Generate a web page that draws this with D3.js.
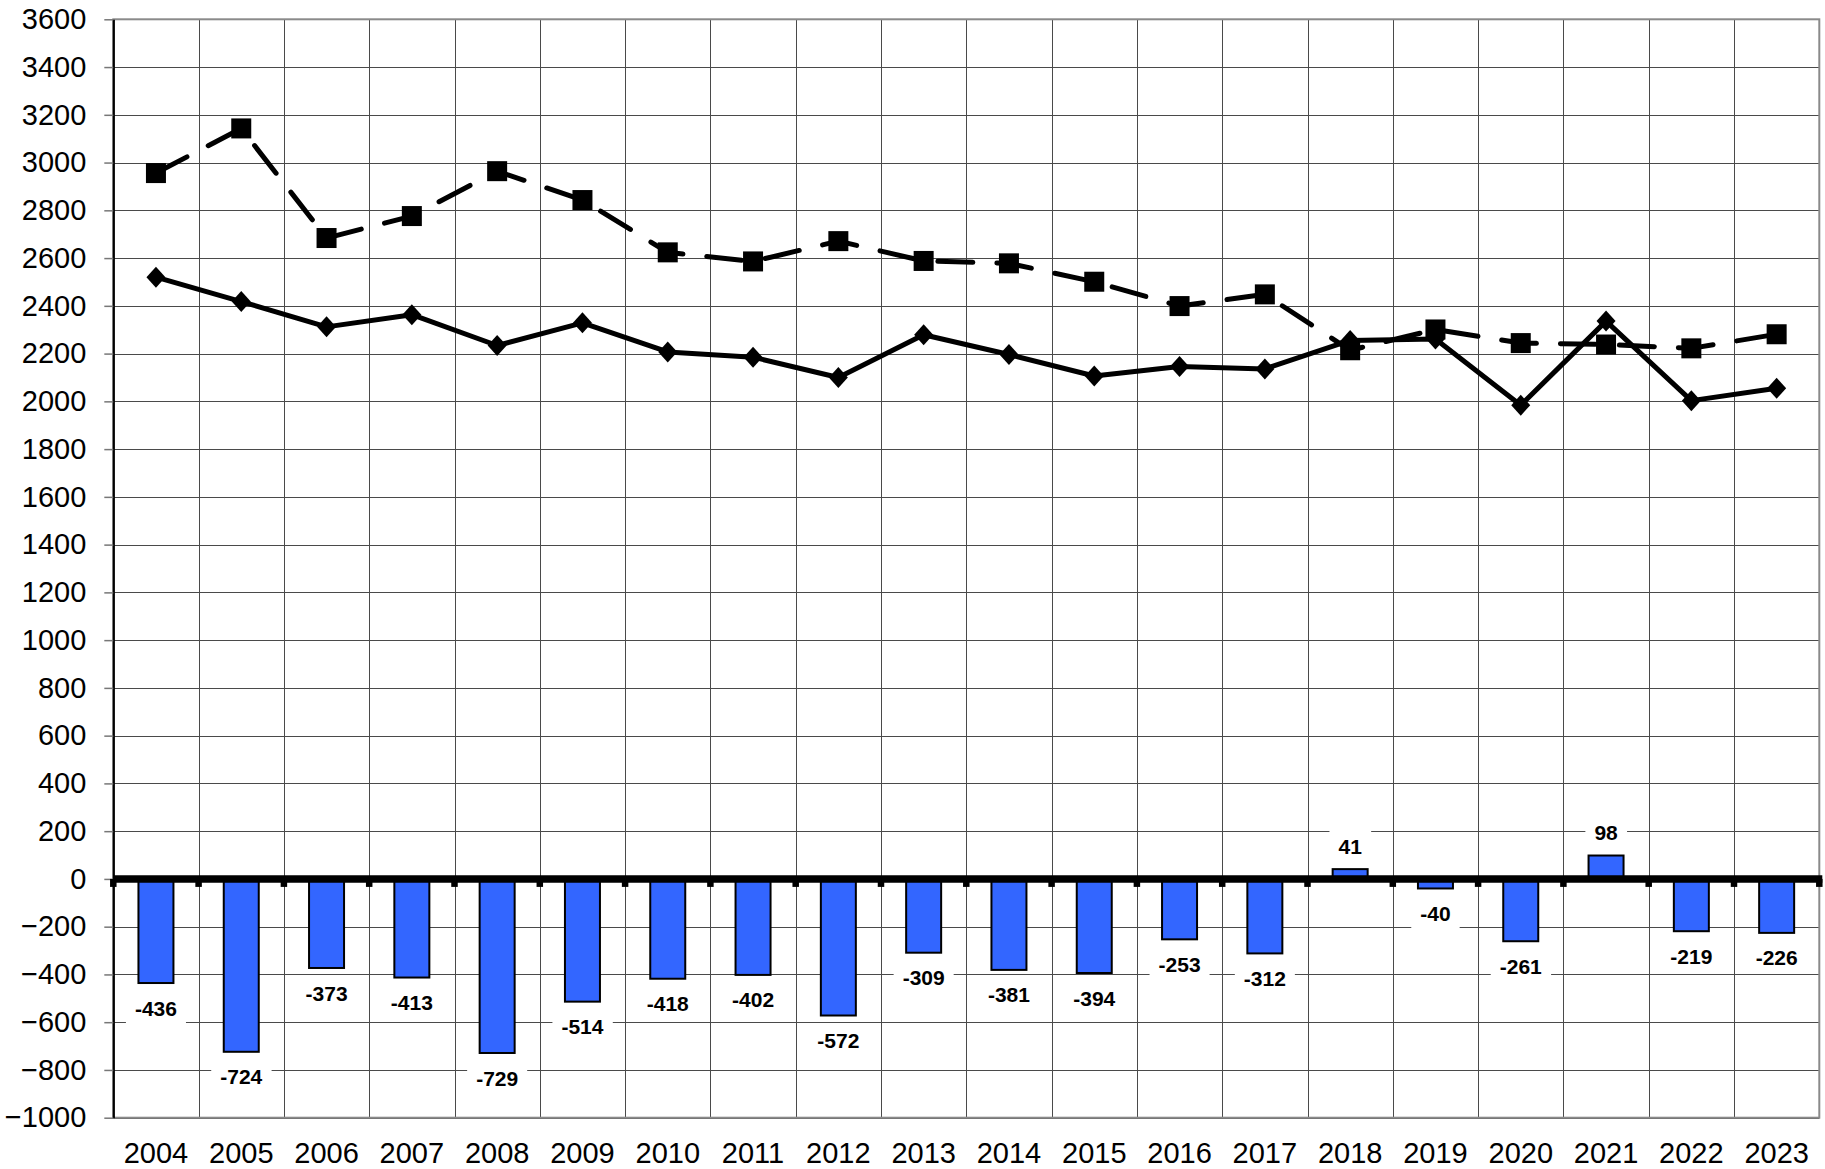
<!DOCTYPE html>
<html>
<head>
<meta charset="utf-8">
<script src="https://cdn.jsdelivr.net/npm/d3@7"></script>
<style>
  html, body { margin: 0; padding: 0; background: #fff; }
  svg { display: block; font-family: "Liberation Sans", Arial, sans-serif; }
</style>
</head>
<body>
<svg id="chart" width="1825" height="1169"></svg>
<script>
const years = ["2004","2005","2006","2007","2008","2009","2010","2011","2012","2013",
               "2014","2015","2016","2017","2018","2019","2020","2021","2022","2023"];
const solidSeries = [2520, 2418, 2312, 2363, 2234, 2329, 2207, 2185, 2100, 2279,
                     2196, 2106, 2146, 2136, 2255, 2261, 1984, 2336, 2003, 2055];
const dashedSeries = [2956, 3143, 2684, 2776, 2964, 2843, 2624, 2586, 2671, 2588,
                      2578, 2501, 2399, 2448, 2214, 2301, 2244, 2238, 2222, 2281];
const barSeries = [-436, -724, -373, -413, -729, -514, -418, -402, -572, -309,
                   -381, -394, -253, -312, 41, -40, -261, 98, -219, -226];
const yTicks = d3.range(-1000, 3601, 200);

const svg = d3.select("#chart");
const pLeft = 113.3, pRight = 1819.3, pTop = 19.3, pBottom = 1117.7;

const x = d3.scaleBand().domain(years).range([pLeft, pRight]).padding(0);
const y = d3.scaleLinear().domain([-1000, 3600]).range([pBottom, pTop]);
const bw = x.bandwidth();
const boundaries = years.map(d => x(d)).concat([pRight]);

// gridlines
const grid = svg.append("g");
grid.selectAll("line.h").data(yTicks).join("line")
  .attr("x1", pLeft).attr("x2", pRight)
  .attr("y1", d => Math.round(y(d)) + 0.5).attr("y2", d => Math.round(y(d)) + 0.5)
  .attr("stroke", "#4a4a4a").attr("stroke-width", 1);
grid.selectAll("line.v").data(boundaries).join("line")
  .attr("x1", d => Math.round(d) + 0.5).attr("x2", d => Math.round(d) + 0.5)
  .attr("y1", pTop).attr("y2", pBottom)
  .attr("stroke", "#4a4a4a").attr("stroke-width", 1);

// plot border
svg.append("rect").attr("x", pLeft).attr("y", pTop)
  .attr("width", pRight - pLeft).attr("height", pBottom - pTop)
  .attr("fill", "none").attr("stroke", "#8a8a8a").attr("stroke-width", 2);

// y axis
const yAxis = svg.append("g").attr("transform", `translate(${pLeft},0)`)
  .call(d3.axisLeft(y).tickValues(yTicks).tickFormat(d3.format("d"))
        .tickSize(9).tickPadding(18).tickSizeOuter(0));
yAxis.select(".domain").attr("stroke", "#000").attr("stroke-width", 2.2);
yAxis.selectAll(".tick line").attr("stroke", "#777").attr("stroke-width", 1.5);
yAxis.selectAll(".tick text").attr("font-size", 29).attr("fill", "#000")
  .attr("font-family", "Liberation Sans, Arial, sans-serif");

// x axis labels
const xAxis = svg.append("g").attr("transform", `translate(0,${pBottom})`)
  .call(d3.axisBottom(x).tickSize(0).tickPadding(0));
xAxis.select(".domain").remove();
xAxis.selectAll(".tick text").attr("font-size", 29).attr("fill", "#000")
  .attr("y", 45).attr("dy", 0)
  .attr("font-family", "Liberation Sans, Arial, sans-serif");

// bars
const y0 = y(0);
svg.append("g").selectAll("rect").data(barSeries).join("rect")
  .attr("x", (d, i) => x(years[i]) + bw / 2 - 17.5)
  .attr("width", 35)
  .attr("y", d => Math.min(y(d), y0))
  .attr("height", d => Math.abs(y(d) - y0))
  .attr("fill", "#3366ff").attr("stroke", "#000").attr("stroke-width", 2);

// zero axis line with ticks
svg.append("line").attr("x1", pLeft).attr("x2", pRight + 3)
  .attr("y1", y0).attr("y2", y0)
  .attr("stroke", "#000").attr("stroke-width", 7.5);
svg.append("g").selectAll("line").data(boundaries).join("line")
  .attr("x1", d => d).attr("x2", d => d)
  .attr("y1", y0).attr("y2", y0 + 8)
  .attr("stroke", "#000").attr("stroke-width", 6.5);

// bar labels
const lbl = svg.append("g").selectAll("g").data(barSeries).join("g")
  .attr("transform", (d, i) => {
    const cy = d >= 0 ? y(d) - 23 : y(d) + 25;
    return `translate(${x(years[i]) + bw / 2},${cy})`;
  });
lbl.append("text")
  .attr("text-anchor", "middle").attr("dy", "0.36em")
  .attr("font-size", 21).attr("font-weight", "bold").attr("fill", "#000")
  .text(d => d);
lbl.each(function() {
  const g = d3.select(this);
  const bb = g.select("text").node().getBBox();
  g.insert("rect", "text")
    .attr("x", bb.x - 9).attr("width", bb.width + 18)
    .attr("y", -16).attr("height", 32)
    .attr("fill", "#fff");
});

// lines
const lineGen = d3.line().x((d, i) => x(years[i]) + bw / 2).y(d => y(d));
svg.append("path").datum(dashedSeries).attr("d", lineGen)
  .attr("fill", "none").attr("stroke", "#000").attr("stroke-width", 5)
  .attr("stroke-dasharray", "35,24").attr("stroke-linecap", "round");
svg.append("path").datum(solidSeries).attr("d", lineGen)
  .attr("fill", "none").attr("stroke", "#000").attr("stroke-width", 5)
  .attr("stroke-linejoin", "round");

// markers
svg.append("g").selectAll("rect").data(dashedSeries).join("rect")
  .attr("x", (d, i) => x(years[i]) + bw / 2 - 10)
  .attr("y", d => y(d) - 10)
  .attr("width", 20).attr("height", 20).attr("fill", "#000");
svg.append("g").selectAll("path").data(solidSeries).join("path")
  .attr("transform", (d, i) => `translate(${x(years[i]) + bw / 2},${y(d)})`)
  .attr("d", "M0,-10.5L9.5,0L0,10.5L-9.5,0Z").attr("fill", "#000");
</script>
</body>
</html>
